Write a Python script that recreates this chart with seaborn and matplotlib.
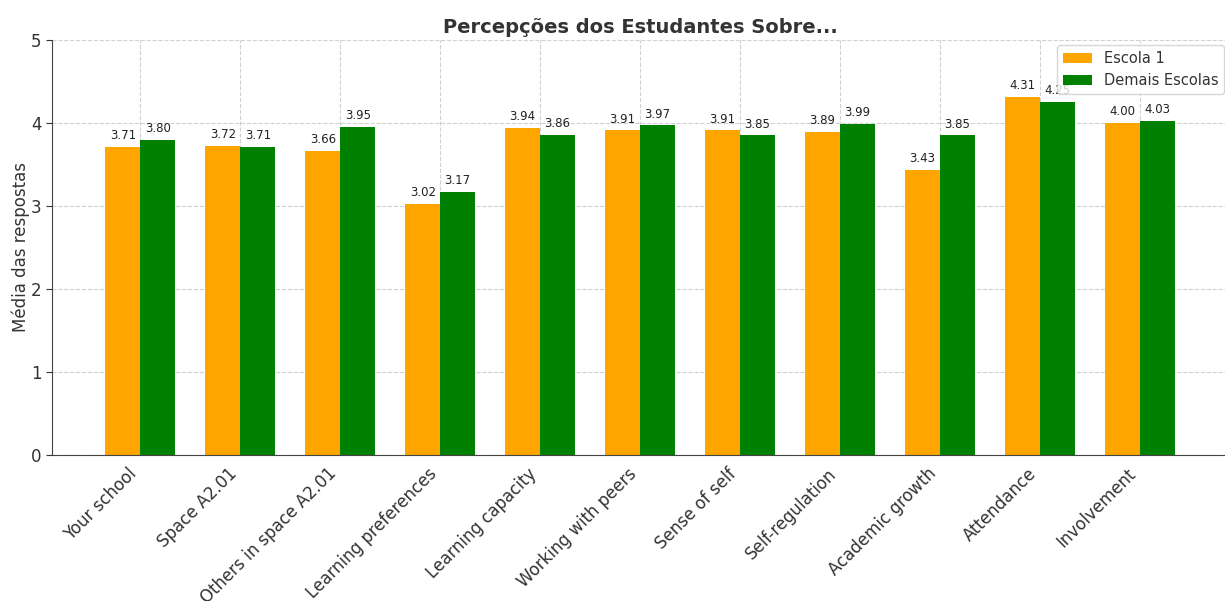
import matplotlib
matplotlib.use("Agg")
import matplotlib.pyplot as plt
import seaborn as sns
import pandas as pd

categories = ["Your school", "Space A2.01", "Others in space A2.01", "Learning preferences",
              "Learning capacity", "Working with peers", "Sense of self", "Self-regulation",
              "Academic growth", "Attendance", "Involvement"]
escola1 = [3.71, 3.72, 3.66, 3.02, 3.94, 3.91, 3.91, 3.89, 3.43, 4.31, 4.00]
demais = [3.80, 3.71, 3.95, 3.17, 3.86, 3.97, 3.85, 3.99, 3.85, 4.25, 4.03]
series_names = ["Escola 1", "Demais Escolas"]
colors = ["orange", "green"]

df = pd.DataFrame({
    "cat": categories * 2,
    "val": escola1 + demais,
    "grupo": [series_names[0]] * len(categories) + [series_names[1]] * len(categories),
})

sns.set_style("white")
plt.rcParams['font.family'] = ['DejaVu Sans']

fig = plt.figure(figsize=(12.25, 6.01), dpi=100)
ax = fig.add_axes([52/1225, (601-455)/601, (1228-52)/1225, (455-40)/601])

sns.barplot(data=df, x="cat", y="val", hue="grupo", palette=colors, width=0.7,
            ax=ax, saturation=1, linewidth=0, errorbar=None)

for cont in ax.containers:
    for bar in cont:
        h = bar.get_height()
        ax.annotate(f"{h:.2f}", (bar.get_x() + bar.get_width()/2, h),
                    xytext=(0, 3.5), textcoords="offset points",
                    ha="center", va="bottom", fontsize=8.5, color="#222222")

ax.set_xlim(-0.885, 10.885)
ax.set_ylim(0, 5)
ax.set_yticks([0, 1, 2, 3, 4, 5])
ax.grid(True, linestyle="--", color="#d0d0d0", linewidth=0.8)
ax.set_axisbelow(True)
for s in ["top", "right"]:
    ax.spines[s].set_visible(False)
ax.spines["left"].set_color("#444444")
ax.spines["bottom"].set_color("#444444")
ax.tick_params(axis="y", labelsize=12, colors="#333333", left=True, length=4)
ax.tick_params(axis="x", labelsize=12, colors="#333333", bottom=False)
plt.setp(ax.get_xticklabels(), rotation=45, ha="right")
ax.set_xlabel("")
ax.set_ylabel("Média das respostas", fontsize=12, color="#333333", labelpad=1)
ax.set_title("Percepções dos Estudantes Sobre...", fontsize=14, fontweight="bold",
             color="#333333", pad=5)
leg = ax.legend(loc="upper right", fontsize=10.5, bbox_to_anchor=(1224/1225, 1 - 45/601),
                bbox_transform=fig.transFigure, borderaxespad=0)
for t in leg.get_texts():
    t.set_color("#333333")

fig.savefig("out.png", dpi=100)
